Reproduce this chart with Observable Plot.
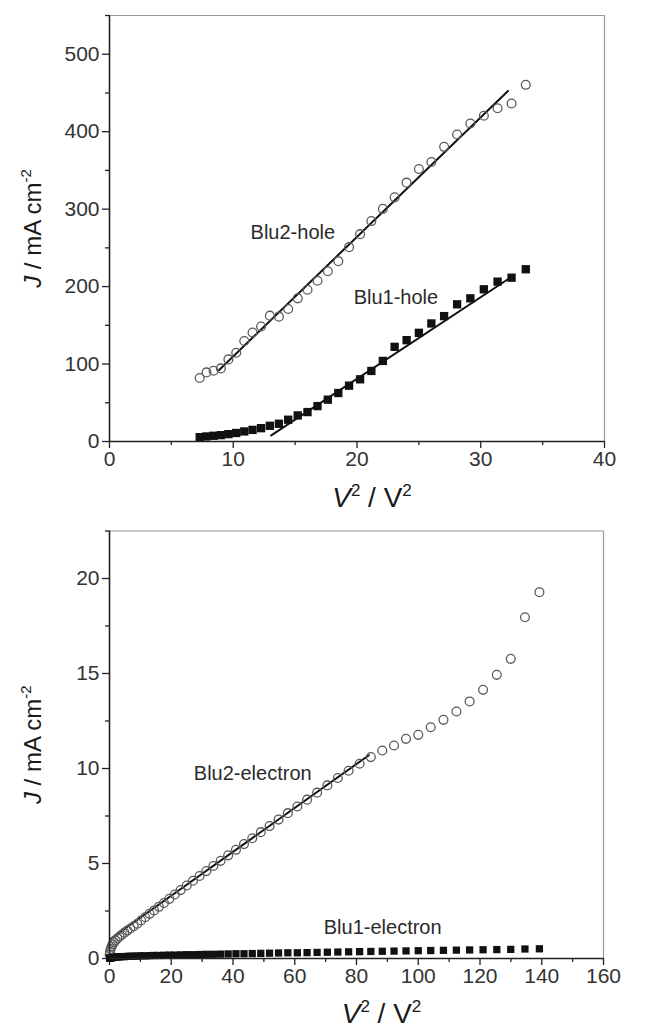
<!DOCTYPE html>
<html><head><meta charset="utf-8">
<script src="https://cdn.jsdelivr.net/npm/d3@7"></script>
<script src="https://cdn.jsdelivr.net/npm/@observablehq/plot@0.6"></script>
<style>
body{margin:0;background:#fff;}
#c{width:654px;}
svg{display:block;}
</style></head><body><div id="c"></div>
<script>
// ---- top panel: hole-only devices ----
const holeV2 = [7.29,7.84,8.41,9.0,9.61,10.24,10.89,11.56,12.25,12.96,13.69,14.44,15.21,16.0,16.81,17.64,18.49,19.36,20.25,21.16,22.09,23.04,24.01,25.0,26.01,27.04,28.09,29.16,30.25,31.36,32.49,33.64];
const blu2Hole = [82.0,89.2,91.3,94.4,106.0,114.6,129.8,140.7,148.5,162.5,161.2,171.1,184.8,195.9,207.5,219.8,232.8,250.9,267.7,284.6,300.4,315.2,334.2,351.8,360.9,380.4,396.4,410.6,420.6,430.2,436.4,460.5];
const blu1Hole = [5.6,6.5,7.4,8.2,9.5,11.0,13.0,15.0,17.2,20.3,22.9,28.1,33.7,38.0,45.7,54.0,62.6,72.1,80.3,91.1,104.0,122.2,130.8,140.3,152.4,161.9,177.1,184.8,196.5,206.4,211.5,222.4];
const fitBlu2HoleX = [8.84, 32.2];
const fitBlu2HoleY = [92, 452.5];
const fitBlu1HoleX = [13.07, 32.6];
const fitBlu1HoleY = [7.8, 213.7];

// ---- bottom panel: electron-only devices ----
const elecV2 = [0.04,0.16,0.36,0.64,1.0,1.44,1.96,2.56,3.24,4.0,4.84,5.76,6.76,7.84,9.0,10.24,11.56,12.96,14.44,16.0,17.64,19.36,21.16,23.04,25.0,27.04,29.16,31.36,33.64,36.0,38.44,40.96,43.56,46.24,49.0,51.84,54.76,57.76,60.84,64.0,67.24,70.56,73.96,77.44,81.0,84.64,88.36,92.16,96.04,100.0,104.04,108.16,112.36,116.64,121.0,125.44,129.96,134.56,139.24];
const blu2Elec = [0.2,0.35,0.5,0.62,0.74,0.85,0.95,1.05,1.15,1.25,1.36,1.47,1.58,1.7,1.83,2.0,2.17,2.35,2.53,2.72,2.92,3.14,3.37,3.6,3.84,4.09,4.34,4.6,4.87,5.14,5.43,5.72,6.02,6.33,6.65,6.97,7.31,7.65,8.0,8.36,8.73,9.11,9.5,9.88,10.25,10.6,10.95,11.21,11.56,11.77,12.17,12.56,13.0,13.53,14.14,14.93,15.77,17.96,19.28];
const blu1Elec = [0.01,0.02,0.03,0.04,0.05,0.06,0.07,0.08,0.09,0.1,0.1,0.11,0.12,0.12,0.13,0.14,0.14,0.15,0.16,0.16,0.17,0.18,0.18,0.19,0.2,0.2,0.21,0.22,0.22,0.23,0.24,0.25,0.25,0.26,0.27,0.28,0.29,0.3,0.3,0.31,0.32,0.33,0.34,0.35,0.36,0.37,0.38,0.39,0.4,0.41,0.42,0.43,0.44,0.45,0.46,0.47,0.48,0.5,0.51];
const fitBlu2ElecX = [0.5, 84];
const fitBlu2ElecY = [1.05, 10.7];

// ---- axes ----
const topXMajor = [0,10,20,30,40];
const topXMinor = [5,15,25,35];
const topYMajor = [0,100,200,300,400,500];
const topYMinor = [50,150,250,350,450,550];
const botXMajor = [0,20,40,60,80,100,120,140,160];
const botXMinor = [10,30,50,70,90,110,130,150];
const botYMajor = [0,5,10,15,20];
const botYMinor = [2.5,7.5,12.5,17.5,22.5];

// ---- annotations ----
const topLabels = ["Blu2-hole","Blu1-hole"];
const topLabelX = [11.4, 19.73];
const topLabelY = [269.4, 185.2];
const botLabels = ["Blu2-electron","Blu1-electron"];
const botLabelX = [27.3, 69.4];
const botLabelY = [9.72, 1.65];

const FONT = "'Liberation Sans', Arial, Helvetica, sans-serif";
const zip = (xs, ys) => xs.map((x, i) => ({x, y: ys[i]}));

function panel(o) {
  const marks = [
    Plot.ruleY([o.yDomain[1]], {stroke: "#9a9a9a", strokeWidth: 1.2}),
    Plot.ruleX([o.xDomain[1]], {stroke: "#9a9a9a", strokeWidth: 1.2}),
    Plot.axisX({ticks: o.xMajor, tickSize: 7, tickPadding: 3, label: null, stroke: "#222", fill: "#333", strokeWidth: 1.3, fontSize: 21, tickFormat: d => String(d)}),
    Plot.axisX({ticks: o.xMinor, tickSize: 4, label: null, stroke: "#222", strokeWidth: 1.3, tickFormat: () => ""}),
    Plot.axisY({ticks: o.yMajor, tickSize: 7, tickPadding: 3, label: null, stroke: "#222", fill: "#333", strokeWidth: 1.3, fontSize: 21, tickFormat: d => String(d)}),
    Plot.axisY({ticks: o.yMinor, tickSize: 4, label: null, stroke: "#222", strokeWidth: 1.3, tickFormat: () => ""}),
    ...o.marks,
    Plot.ruleY([0], {stroke: "#222", strokeWidth: 1.6}),
    Plot.ruleX([0], {stroke: "#222", strokeWidth: 1.6}),
    Plot.text(o.labels, {x: (d, i) => o.labelX[i], y: (d, i) => o.labelY[i], text: d => d, textAnchor: "start", lineAnchor: "middle", fontSize: 20, fill: "#2a2a2a"}),
    Plot.text(["@XLAB@"], {frameAnchor: "bottom", dy: o.xLabDy, dx: o.xLabDx, lineAnchor: "bottom", textAnchor: "middle", fontSize: 28, fill: "#1a1a1a"}),
    Plot.text(["@YLAB@"], {frameAnchor: "left", dx: -76, rotate: -90, textAnchor: "middle", lineAnchor: "middle", fontSize: 24, fill: "#1a1a1a"})
  ];
  const svg = Plot.plot({
    width: 654, height: o.height,
    marginLeft: 109, marginRight: o.marginRight, marginTop: o.marginTop, marginBottom: o.marginBottom,
    x: {domain: o.xDomain, label: null},
    y: {domain: o.yDomain, label: null},
    style: {fontFamily: FONT, fontSize: "21px", color: "#222", background: "#fff", overflow: "visible"},
    marks
  });
  svg.querySelectorAll("text").forEach(t => {
    if (t.textContent === "@XLAB@") {
      const s = d3.select(t).text(null);
      s.append("tspan").attr("font-style", "italic").text("V");
      s.append("tspan").attr("font-size", 17).attr("dy", -11).text("2");
      s.append("tspan").attr("dy", 11).text(" / V");
      s.append("tspan").attr("font-size", 17).attr("dy", -11).text("2");
    } else if (t.textContent === "@YLAB@") {
      const s = d3.select(t).text(null);
      s.append("tspan").attr("font-style", "italic").text("J");
      s.append("tspan").text(" / mA cm");
      s.append("tspan").attr("font-size", 15).attr("dy", -10).text("-2");
    }
  });
  return svg;
}

const topPanel = panel({
  height: 512, marginTop: 15, marginBottom: 71, marginRight: 50,
  xDomain: [0, 40], yDomain: [0, 550],
  xMajor: topXMajor, xMinor: topXMinor, yMajor: topYMajor, yMinor: topYMinor,
  labels: topLabels, labelX: topLabelX, labelY: topLabelY,
  xLabDy: 65, xLabDx: 15,
  marks: [
    Plot.line(zip(fitBlu2HoleX, fitBlu2HoleY), {x: "x", y: "y", stroke: "#111", strokeWidth: 2}),
    Plot.line(zip(fitBlu1HoleX, fitBlu1HoleY), {x: "x", y: "y", stroke: "#111", strokeWidth: 2}),
    Plot.dot(zip(holeV2, blu2Hole), {x: "x", y: "y", r: 4.4, stroke: "#5a5a5a", strokeWidth: 1.3, fill: "none"}),
    Plot.dot(zip(holeV2, blu1Hole), {x: "x", y: "y", r: 4.7, symbol: "square", fill: "#111", stroke: "none"})
  ]
});

const botPanel = panel({
  height: 516, marginTop: 18.5, marginBottom: 70, marginRight: 51,
  xDomain: [0, 160], yDomain: [0, 22.5],
  xMajor: botXMajor, xMinor: botXMinor, yMajor: botYMajor, yMinor: botYMinor,
  labels: botLabels, labelX: botLabelX, labelY: botLabelY,
  xLabDy: 64, xLabDx: 25,
  marks: [
    Plot.line(zip(fitBlu2ElecX, fitBlu2ElecY), {x: "x", y: "y", stroke: "#111", strokeWidth: 2}),
    Plot.dot(zip(elecV2, blu2Elec), {x: "x", y: "y", r: 4.4, stroke: "#5a5a5a", strokeWidth: 1.3, fill: "none"}),
    Plot.dot(zip(elecV2, blu1Elec), {x: "x", y: "y", r: 4.1, symbol: "square", fill: "#111", stroke: "none"})
  ]
});

document.getElementById("c").append(topPanel, botPanel);
</script></body></html>
